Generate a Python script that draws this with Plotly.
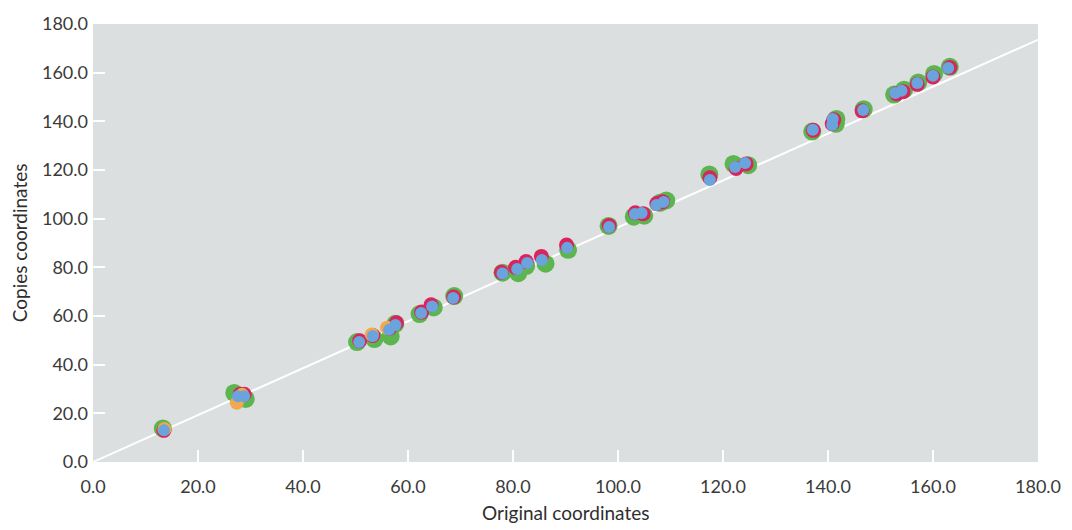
import plotly.graph_objects as go

# ---- data ----
tick_vals = [0, 20, 40, 60, 80, 100, 120, 140, 160, 180]
tick_text = ["0.0", "20.0", "40.0", "60.0", "80.0", "100.0", "120.0", "140.0", "160.0", "180.0"]

green_x = [13.3, 26.9, 29.1, 50.3, 53.6, 56.7, 57.6, 62.2, 64.9, 68.8, 78.0, 81.0, 82.5, 86.2, 90.5,
           98.2, 103.0, 105.0, 108.0, 109.2, 117.4, 122.0, 124.8, 137.0, 141.5, 141.6, 146.8,
           152.6, 154.5, 157.2, 160.2, 163.2]
green_y = [13.8, 28.4, 25.9, 49.3, 50.5, 51.6, 56.8, 60.8, 63.5, 68.2, 77.8, 77.6, 80.5, 81.5, 87.2,
           97.0, 100.8, 101.2, 106.5, 107.5, 118.2, 122.5, 122.0, 135.8, 139.0, 141.0, 145.0,
           151.0, 153.0, 156.0, 159.5, 162.4]

red_x = [13.5, 28.0, 28.8, 50.8, 53.3, 56.5, 57.8, 62.6, 64.4, 68.7, 77.8, 80.5, 82.5, 85.4, 90.2,
         98.3, 103.3, 104.8, 107.4, 108.5, 117.5, 122.5, 124.4, 137.2, 140.8, 141.1, 146.5,
         153.1, 154.3, 157.0, 160.0, 163.2]
red_y = [13.0, 27.8, 27.8, 49.8, 52.0, 55.0, 57.2, 61.6, 64.6, 67.8, 78.0, 80.0, 82.4, 84.5, 89.2,
         97.2, 102.4, 102.0, 106.2, 107.0, 116.8, 120.6, 122.5, 136.3, 139.0, 140.6, 144.3,
         151.3, 152.2, 155.2, 158.2, 162.1]

orange_x = [13.6, 27.4, 28.4, 53.1, 56.0]
orange_y = [13.6, 24.3, 27.6, 52.4, 55.2]

blue_x = [13.5, 27.6, 28.8, 50.7, 53.3, 56.4, 57.6, 62.5, 64.6, 68.6, 78.0, 80.8, 82.7, 85.5, 90.3,
          98.3, 103.2, 104.5, 107.3, 108.7, 117.5, 122.3, 124.2, 137.1, 140.8, 140.9, 146.7,
          152.8, 154.0, 157.0, 160.0, 162.9]
blue_y = [13.0, 27.0, 27.0, 49.3, 51.8, 54.3, 56.3, 61.2, 63.9, 67.4, 77.5, 79.3, 81.8, 83.0, 88.0,
          96.6, 101.9, 102.3, 105.6, 106.9, 115.9, 121.2, 122.9, 136.5, 138.5, 141.0, 144.7,
          151.6, 152.6, 155.8, 158.7, 161.9]

line_x = [0, 181]
line_y = [0, 174.5]

# ---- figure ----
fig = go.Figure()
fig.add_trace(go.Scatter(x=line_x, y=line_y, mode="lines",
                         line=dict(color="white", width=2), hoverinfo="skip"))
fig.add_trace(go.Scatter(x=green_x, y=green_y, mode="markers",
                         marker=dict(size=18, color="#5cb54e", line=dict(width=0))))
fig.add_trace(go.Scatter(x=red_x, y=red_y, mode="markers",
                         marker=dict(size=15, color="#d9245e", line=dict(width=0))))
fig.add_trace(go.Scatter(x=orange_x, y=orange_y, mode="markers",
                         marker=dict(size=14, color="#f0a94e", line=dict(width=0))))
fig.add_trace(go.Scatter(x=blue_x, y=blue_y, mode="markers",
                         marker=dict(size=12, color="#6ba3dc", line=dict(width=0))))

tick_font = dict(family="Lato", size=18, color="#3a3a3a")
title_font = dict(family="Lato", size=19, color="#2e2e2e")
axis_common = dict(range=[0, 180], tickvals=tick_vals, ticktext=tick_text,
                   ticks="inside", ticklen=12, tickwidth=2, tickcolor="white",
                   showgrid=False, zeroline=False, showline=False, automargin=False,
                   tickfont=tick_font, fixedrange=True)

fig.update_layout(
    width=1072, height=530,
    margin=dict(l=93, r=34, t=24, b=68),
    paper_bgcolor="white", plot_bgcolor="#dcdfe0",
    showlegend=False,
    xaxis=dict(**axis_common, ticklabelstandoff=12),
    yaxis=dict(**axis_common, ticklabelstandoff=4),
    annotations=[
        dict(text="Original coordinates", xref="paper", yref="paper",
             x=0.5, y=-0.115, xanchor="center", yanchor="middle", showarrow=False,
             font=title_font),
        dict(text="Copies coordinates", xref="paper", yref="paper",
             x=-0.078, y=0.5, xanchor="center", yanchor="middle", showarrow=False,
             textangle=-90, font=title_font),
    ],
)

fig.write_html("out.html", config={"displayModeBar": False},
               post_script="document.body.style.margin='0';")
